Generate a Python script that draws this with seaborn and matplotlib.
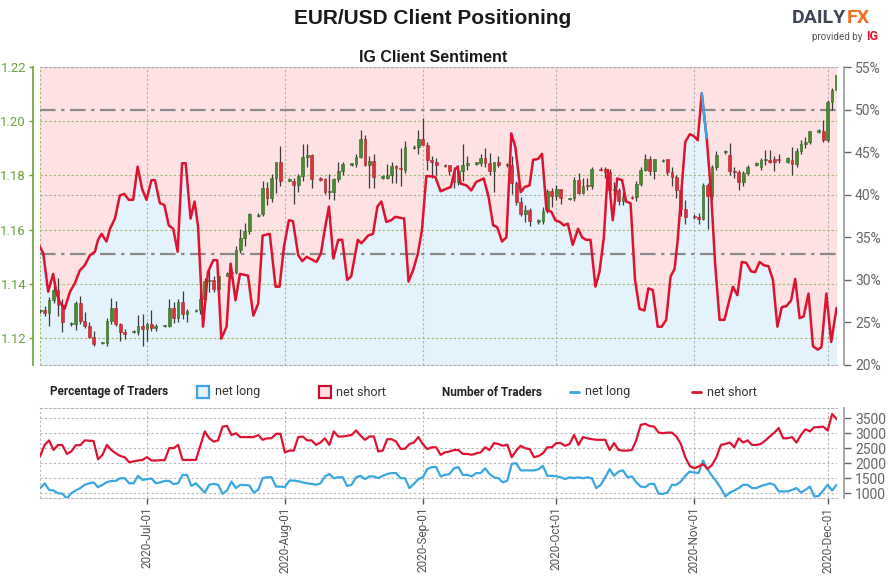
import numpy as np
import pandas as pd
import matplotlib
matplotlib.use("Agg")
import matplotlib.pyplot as plt
import matplotlib.dates as mdates
from matplotlib.patches import Rectangle
from matplotlib.lines import Line2D
import seaborn as sns

START = pd.Timestamp("2020-06-07")

# daily EUR/USD candles, Sunday..Friday sessions
candle_dates = [d for d in pd.date_range("2020-06-07", "2020-12-03") if d.dayofweek != 5]

opens = [
    1.1298, 1.1302, 1.1292, 1.1340, 1.1378, 1.1320,
    1.1250, 1.1252, 1.1328, 1.1262, 1.1245, 1.1205,
    1.1180, 1.1180, 1.1262, 1.1310, 1.1250, 1.1220,
    1.1222, 1.1222, 1.1245, 1.1234, 1.1250, 1.1238,
    1.1243, 1.1245, 1.1310, 1.1273, 1.1333, 1.1287,
    1.1300, 1.1303, 1.1342, 1.1410, 1.1412, 1.1382,
    1.1430, 1.1438, 1.1444, 1.1526, 1.1567, 1.1596,
    1.1650, 1.1656, 1.1752, 1.1716, 1.1792, 1.1848,
    1.1780, 1.1778, 1.1764, 1.1798, 1.1866, 1.1875,
    1.1792, 1.1786, 1.1737, 1.1739, 1.1785, 1.1815,
    1.1840, 1.1842, 1.1869, 1.1933, 1.1838, 1.1853,
    1.1790, 1.1790, 1.1802, 1.1834, 1.1828, 1.1820,
    1.1900, 1.1903, 1.1935, 1.1913, 1.1855, 1.1851,
    1.1837, 1.1837, 1.1817, 1.1777, 1.1815, 1.1840,
    1.1843, 1.1845, 1.1864, 1.1845, 1.1815, 1.1848,
    1.1838, 1.1838, 1.1770, 1.1701, 1.1658, 1.1672,
    1.1628, 1.1631, 1.1667, 1.1743, 1.1722, 1.1749,
    1.1712, 1.1716, 1.1782, 1.1735, 1.1761, 1.1759,
    1.1822, 1.1825, 1.1813, 1.1745, 1.1746, 1.1706,
    1.1718, 1.1719, 1.1768, 1.1820, 1.1862, 1.1816,
    1.1853, 1.1859, 1.1811, 1.1795, 1.1747, 1.1674,
    1.1650, 1.1646, 1.1640, 1.1765, 1.1723, 1.1830,
    1.1885, 1.1875, 1.1815, 1.1812, 1.1775, 1.1808,
    1.1840, 1.1832, 1.1855, 1.1858, 1.1860, 1.1860,
    1.1850, 1.1858, 1.1842, 1.1890, 1.1915, 1.1925,
    1.1960, 1.1962, 1.1930, 1.2071, 1.2115,
]
highs = [
    1.1305, 1.1317, 1.1350, 1.1410, 1.1422, 1.1345,
    1.1258, 1.1336, 1.1354, 1.1295, 1.1258, 1.1225,
    1.1186, 1.1275, 1.1348, 1.1335, 1.1255, 1.1232,
    1.1228, 1.1285, 1.1288, 1.1258, 1.1302, 1.1250,
    1.1248, 1.1345, 1.1333, 1.1345, 1.1372, 1.1308,
    1.1306, 1.1375, 1.1420, 1.1452, 1.1430, 1.1445,
    1.1442, 1.1468, 1.1540, 1.1601, 1.1625, 1.1660,
    1.1660, 1.1781, 1.1776, 1.1805, 1.1850, 1.1909,
    1.1790, 1.1790, 1.1805, 1.1916, 1.1916, 1.1880,
    1.1795, 1.1790, 1.1805, 1.1790, 1.1850, 1.1850,
    1.1846, 1.1880, 1.1966, 1.1950, 1.1870, 1.1880,
    1.1800, 1.1842, 1.1850, 1.1840, 1.1900, 1.1926,
    1.1912, 1.1966, 1.2011, 1.1925, 1.1870, 1.1865,
    1.1842, 1.1840, 1.1830, 1.1840, 1.1917, 1.1870,
    1.1850, 1.1880, 1.1900, 1.1882, 1.1850, 1.1870,
    1.1845, 1.1872, 1.1780, 1.1720, 1.1690, 1.1680,
    1.1640, 1.1683, 1.1750, 1.1755, 1.1765, 1.1750,
    1.1718, 1.1795, 1.1808, 1.1790, 1.1790, 1.1830,
    1.1830, 1.1832, 1.1825, 1.1775, 1.1755, 1.1740,
    1.1724, 1.1780, 1.1830, 1.1880, 1.1870, 1.1860,
    1.1860, 1.1862, 1.1830, 1.1800, 1.1760, 1.1710,
    1.1656, 1.1660, 1.1770, 1.1770, 1.1840, 1.1890,
    1.1893, 1.1920, 1.1830, 1.1820, 1.1815, 1.1840,
    1.1848, 1.1865, 1.1895, 1.1893, 1.1870, 1.1880,
    1.1868, 1.1905, 1.1900, 1.1930, 1.1941, 1.1965,
    1.1972, 1.2004, 1.2077, 1.2121, 1.2176,
]
lows = [
    1.1292, 1.1280, 1.1243, 1.1330, 1.1282, 1.1220,
    1.1245, 1.1230, 1.1250, 1.1235, 1.1200, 1.1170,
    1.1176, 1.1170, 1.1250, 1.1245, 1.1190, 1.1195,
    1.1218, 1.1210, 1.1170, 1.1190, 1.1225, 1.1226,
    1.1240, 1.1240, 1.1255, 1.1260, 1.1270, 1.1258,
    1.1296, 1.1290, 1.1335, 1.1370, 1.1370, 1.1370,
    1.1428, 1.1422, 1.1435, 1.1512, 1.1540, 1.1585,
    1.1648, 1.1650, 1.1690, 1.1700, 1.1735, 1.1760,
    1.1778, 1.1696, 1.1740, 1.1780, 1.1830, 1.1754,
    1.1780, 1.1730, 1.1711, 1.1710, 1.1775, 1.1800,
    1.1836, 1.1830, 1.1865, 1.1835, 1.1753, 1.1753,
    1.1785, 1.1785, 1.1770, 1.1770, 1.1762, 1.1810,
    1.1896, 1.1880, 1.1915, 1.1820, 1.1789, 1.1800,
    1.1830, 1.1800, 1.1752, 1.1765, 1.1780, 1.1820,
    1.1838, 1.1835, 1.1830, 1.1800, 1.1737, 1.1830,
    1.1830, 1.1732, 1.1690, 1.1650, 1.1627, 1.1612,
    1.1620, 1.1620, 1.1660, 1.1685, 1.1710, 1.1695,
    1.1708, 1.1705, 1.1730, 1.1730, 1.1745, 1.1750,
    1.1815, 1.1790, 1.1735, 1.1725, 1.1690, 1.1690,
    1.1712, 1.1705, 1.1760, 1.1815, 1.1800, 1.1785,
    1.1850, 1.1800, 1.1760, 1.1718, 1.1650, 1.1622,
    1.1640, 1.1622, 1.1635, 1.1602, 1.1710, 1.1820,
    1.1880, 1.1800, 1.1790, 1.1745, 1.1760, 1.1800,
    1.1835, 1.1820, 1.1840, 1.1845, 1.1815, 1.1845,
    1.1845, 1.1800, 1.1830, 1.1880, 1.1900, 1.1915,
    1.1958, 1.1924, 1.1925, 1.2040, 1.2105,
]
closes = [
    1.1302, 1.1292, 1.1340, 1.1378, 1.1320, 1.1258,
    1.1255, 1.1328, 1.1262, 1.1245, 1.1205, 1.1178,
    1.1183, 1.1262, 1.1310, 1.1250, 1.1220, 1.1215,
    1.1225, 1.1245, 1.1234, 1.1250, 1.1238, 1.1245,
    1.1246, 1.1310, 1.1273, 1.1333, 1.1287, 1.1300,
    1.1303, 1.1342, 1.1410, 1.1412, 1.1382, 1.1428,
    1.1438, 1.1444, 1.1526, 1.1567, 1.1596, 1.1656,
    1.1655, 1.1752, 1.1716, 1.1792, 1.1848, 1.1778,
    1.1786, 1.1764, 1.1798, 1.1866, 1.1875, 1.1786,
    1.1784, 1.1737, 1.1739, 1.1785, 1.1815, 1.1842,
    1.1843, 1.1869, 1.1933, 1.1838, 1.1853, 1.1795,
    1.1796, 1.1802, 1.1834, 1.1828, 1.1822, 1.1903,
    1.1905, 1.1935, 1.1913, 1.1855, 1.1851, 1.1837,
    1.1835, 1.1817, 1.1777, 1.1815, 1.1840, 1.1845,
    1.1848, 1.1864, 1.1845, 1.1815, 1.1848, 1.1838,
    1.1840, 1.1770, 1.1701, 1.1658, 1.1672, 1.1631,
    1.1636, 1.1667, 1.1743, 1.1722, 1.1749, 1.1716,
    1.1714, 1.1782, 1.1735, 1.1761, 1.1759, 1.1825,
    1.1818, 1.1813, 1.1745, 1.1746, 1.1706, 1.1719,
    1.1716, 1.1768, 1.1820, 1.1862, 1.1816, 1.1859,
    1.1855, 1.1811, 1.1795, 1.1747, 1.1674, 1.1646,
    1.1645, 1.1640, 1.1765, 1.1723, 1.1830, 1.1875,
    1.1890, 1.1815, 1.1812, 1.1775, 1.1808, 1.1832,
    1.1844, 1.1855, 1.1858, 1.1850, 1.1850, 1.1855,
    1.1865, 1.1842, 1.1890, 1.1915, 1.1925, 1.1962,
    1.1968, 1.1930, 1.2071, 1.2115, 1.2172,
]

# IG client sentiment: % of traders net long (time in days after 2020-06-07)
sent_days = [
    -0.45, 0.7, 1.8, 2.9, 3.7, 4.4, 5.5, 6.7, 7.8, 8.9, 10.0, 11.2, 12.3, 13.0, 13.8,
    14.9, 15.7, 16.8, 17.9, 18.9, 19.9, 20.9, 21.9, 22.9, 23.9, 25.0, 25.8, 26.9, 27.9,
    28.9, 29.9, 30.9, 31.9, 32.7, 33.8, 34.7, 35.5, 36.6, 37.7, 38.9, 39.8, 40.7, 41.9,
    42.8, 43.9, 44.9, 46.7, 47.9, 49.0, 50.0, 51.6, 52.9, 53.8, 54.8, 55.9, 56.8, 58.0,
    58.9, 59.9, 61.0, 62.1, 63.1, 64.0, 64.9, 65.9, 67.0, 67.9, 69.0, 69.9, 71.4, 72.2,
    72.9, 73.7, 74.8, 75.8, 76.7, 77.8, 78.9, 79.8, 81.8, 82.8, 83.8, 84.9, 85.8, 86.8,
    88.8, 90.0, 91.3, 92.3, 93.2, 93.8, 94.5, 95.8, 96.9, 98.0, 99.7, 100.8, 101.8, 102.7,
    103.8, 104.8, 105.9, 106.8, 108.0, 108.9, 110.0, 110.8, 111.9, 112.8, 113.8, 114.9,
    115.8, 116.8, 117.7, 118.6, 119.7, 120.9, 121.8, 122.7, 123.7, 124.8, 125.7, 126.7,
    127.6, 128.7, 129.7, 130.8, 131.7, 132.7, 133.7, 134.7, 135.8, 136.7, 137.7, 138.8,
    139.7, 140.7, 141.7, 142.6, 143.3, 144.2, 145.0, 146.0, 146.9, 147.8, 148.7, 149.8,
    150.8, 151.7, 152.7, 153.8, 154.7, 155.7, 156.7, 157.7, 158.7, 159.8, 160.7, 161.7,
    162.7, 163.7, 164.7, 165.7, 166.7, 167.7, 168.8, 169.7, 170.7, 171.6, 172.7, 173.7,
    174.8, 175.6, 176.7, 177.8, 179.0,
]
sent_pct = [
    34.3, 33.1, 28.6, 30.7, 28.4, 27.4, 26.6, 28.6, 29.6, 31.1, 31.7, 32.9, 33.3, 34.7, 35.4,
    34.5, 36.0, 37.2, 39.9, 40.1, 39.4, 39.4, 43.3, 40.7, 39.4, 41.7, 41.7, 39.0, 38.8,
    36.4, 36.0, 33.3, 43.7, 43.7, 37.2, 39.2, 36.2, 24.5, 30.9, 32.3, 32.3, 23.1, 24.5,
    31.9, 27.6, 30.7, 30.5, 25.8, 27.2, 35.2, 35.4, 29.2, 29.2, 33.9, 37.0, 36.9, 32.9,
    32.2, 32.7, 32.4, 32.1, 33.1, 36.0, 38.6, 32.5, 34.7, 34.7, 30.0, 30.4, 34.7, 34.3,
    34.7, 35.2, 35.4, 38.6, 39.2, 36.8, 37.0, 37.4, 37.2, 29.8, 31.1, 33.1, 35.8, 42.2,
    42.1, 40.4, 40.7, 40.9, 42.9, 43.3, 41.3, 41.1, 40.5, 41.5, 41.9, 39.7, 36.4, 36.2,
    34.5, 35.0, 47.2, 45.6, 40.3, 40.9, 41.1, 44.1, 44.2, 44.8, 38.2, 38.0,
    37.0, 36.8, 36.4, 36.6, 34.1, 36.0, 35.0, 34.7, 34.7, 29.2, 30.9, 35.0,
    42.9, 37.0, 41.9, 41.7, 39.2, 39.0, 30.0, 26.6, 26.4, 29.0, 28.8, 24.5,
    24.5, 25.3, 30.4, 31.3, 34.7, 40.9, 46.2, 47.1, 46.9, 46.4, 51.9, 46.7,
    40.2, 31.9, 25.3, 25.3, 27.2, 29.2, 28.2, 32.1, 32.0, 31.0, 30.9, 32.1,
    31.7, 31.6, 30.0, 24.5, 26.8, 26.9, 27.6, 30.1, 25.5, 25.7, 28.4, 22.2,
    21.8, 22.1, 28.4, 22.7, 26.7,
]

# number of traders (days after 2020-06-07)
long_days = [*range(0, 36), *range(37, 46), *range(47, 180)]
long_traders = [
    1170, 1330, 1110, 1090, 1000, 980, 830, 1000, 1090, 1170, 1280, 1330, 1360, 1200,
    1280, 1370, 1410, 1410, 1500, 1500, 1330, 1330, 1580, 1440, 1470, 1490, 1330, 1360,
    1410, 1410, 1300, 1330, 1610, 1610, 1240, 1330,
    1020, 1280, 1310, 1280, 980, 1090, 1390, 1170, 1280,
    1260, 1020, 1110, 1500, 1530, 1530, 1220, 1220, 1200, 1420, 1420, 1400, 1360, 1330,
    1310, 1280, 1330, 1560, 1640, 1500, 1530, 1530, 1240, 1280, 1530, 1580, 1470, 1560,
    1560, 1500, 1580, 1640, 1670, 1670, 1500, 1500, 1170, 1310, 1470, 1530, 1800, 1870, 1870,
    1560, 1610, 1640, 1830, 1870, 1610, 1610, 1560, 1670, 1670,
    1830, 1640, 1530, 1500, 1360, 1420, 1980, 2000, 1760, 1760,
    1760, 1760, 1800, 1910, 1580, 1580, 1560, 1530, 1470, 1530,
    1500, 1530, 1500, 1530, 1500, 1170, 1280, 1530, 1800, 1580,
    1720, 1760, 1530, 1560, 1360, 1220, 1200, 1310, 1310, 980,
    980, 1020, 1280, 1280, 1390, 1580, 1720, 1690, 1670, 2090,
    1800, 1580, 1390, 1170, 890, 1020, 1090, 1170, 1280, 1280,
    1170, 1170, 1240, 1280, 1330, 1280, 1060, 1060, 1060, 1110,
    1170, 1020, 1110, 1220, 890, 910, 1090, 1280, 1090, 1280,
]
short_days = [*range(0, 11), *range(12, 34), 35, *range(37, 46), *range(48, 69), *range(70, 180)]
short_traders = [
    2240, 2610, 2760, 2440, 2610, 2600, 2310, 2390, 2600, 2600, 2760,
    2740, 2130, 2280, 2610, 2440, 2330, 2240, 2200, 2030, 2060, 2090, 2110, 2200, 2090,
    2090, 2100, 2100, 2500, 2500, 2610, 2110, 2110,
    2110,
    3060, 2830, 2720, 2760, 3220, 3240, 2940, 3000, 2870,
    2870, 2940, 2780, 2830, 2830, 2980, 2980, 2360, 2420, 2420, 2870, 2890, 2760, 2760,
    2610, 2690, 2830, 2610, 3060, 2890, 2890,
    2940, 3090, 2920, 2780, 2890, 2890, 2390, 2420, 2800, 2800, 2720, 2480, 2480, 2640,
    2690, 2870, 2640, 2470, 2530, 2530,
    2280, 2360, 2390, 2440, 2440, 2310, 2310, 2280, 2330, 2360,
    2530, 2440, 2670, 2640, 2580, 2620, 2200, 2420, 2580, 2500,
    2470, 2200, 2240, 2330, 2530, 2530, 2670, 2670, 2580, 2640,
    2940, 2610, 2870, 2830, 2800, 2780, 2780, 2780, 2440, 2670,
    2440, 2420, 2420, 2440, 2780, 3280, 3310, 3240, 3220, 3020,
    3000, 3020, 3020, 2890, 2640, 2200, 1910, 1830, 1890, 1970,
    1810, 1940, 2200, 2610, 2640, 2690, 2530, 2830, 2690, 2760,
    2610, 2610, 2640, 2760, 2890, 3020, 3170, 2830, 2830, 2870,
    2690, 2940, 3130, 3060, 3200, 3200, 3220, 3090, 3640, 3470,
]

price_ticks = [1.12, 1.14, 1.16, 1.18, 1.20, 1.22]
pct_ticks = [20, 25, 30, 35, 40, 45, 50, 55]
trader_ticks = [1000, 1500, 2000, 2500, 3000, 3500]

PRICE_LIM = (1.11, 1.22)
PCT_LIM = (20, 55)

GREEN = "#4a8a32"
RED = "#d8323c"
LINE_RED = "#dc1431"
LINE_BLUE = "#3aa6e2"
FILL_BLUE = "#e4f2fb"
FILL_PINK = "#fde1e3"
AXIS_GREEN = "#6aa23c"
GREY = "#666666"


def pct_to_price(p):
    p = np.asarray(p, dtype=float)
    return PRICE_LIM[0] + (p - PCT_LIM[0]) * (PRICE_LIM[1] - PRICE_LIM[0]) / (PCT_LIM[1] - PCT_LIM[0])


sns.set_theme(style="white")
plt.rcParams["font.family"] = ["Roboto", "DejaVu Sans"]

W, H = 891, 576
fig = plt.figure(figsize=(W / 100, H / 100), dpi=100)
ax = fig.add_axes([40 / W, 1 - 365 / H, 797 / W, 298 / H])
axb = fig.add_axes([40 / W, 1 - 498.3 / H, 797 / W, 90 / H], sharex=ax)

x0 = START - pd.Timedelta(hours=1)
x1 = START + pd.Timedelta(days=179.1)

# --- main panel -------------------------------------------------------
ax.set_facecolor(FILL_PINK)
st = START + pd.to_timedelta(sent_days, unit="D")
sp = pct_to_price(sent_pct)
ax.fill_between(st, sp, PRICE_LIM[0], color=FILL_BLUE, lw=0, zorder=0)
ax.fill_between(st, sp, PRICE_LIM[1], color=FILL_PINK, lw=0, zorder=0)

ax.axhline(pct_to_price(50), color="#8a8a8a", lw=1.6, ls=(0, (7, 2.5, 1.5, 2.5)), zorder=2)
ax.axhline(pct_to_price(33), color="#8a8a8a", lw=1.6, ls=(0, (7, 2.5, 1.5, 2.5)), zorder=2)
ax.axhline(pct_to_price(40), color="#aaaaaa", lw=0.8, ls=(0, (2, 2)), zorder=1)

candles = pd.DataFrame({"date": candle_dates, "open": opens, "high": highs,
                        "low": lows, "close": closes})
up = candles["close"] >= candles["open"]
ax.vlines(candles["date"], candles["low"], candles["high"], color="#3c3c3c", lw=0.9, zorder=3)
ax.bar(candles["date"], (candles["close"] - candles["open"]).abs().clip(lower=0.0004),
       bottom=candles[["open", "close"]].min(axis=1), width=0.62,
       color=np.where(up, GREEN, RED), edgecolor=np.where(up, "#2f6320", "#a8222b"),
       lw=0.4, zorder=4)

ax.plot(st, sp, color=LINE_RED, lw=1.8, zorder=5, solid_joinstyle="round")
for i in range(len(sent_pct) - 1):
    if sent_pct[i] > 50:
        ax.plot(st[i:i + 2], sp[i:i + 2], color=LINE_BLUE, lw=1.8, zorder=6)

ax.set_ylim(*PRICE_LIM)
ax.set_xlim(x0, x1)
ax.set_yticks(price_ticks)
ax.yaxis.set_major_formatter(plt.FormatStrFormatter("%.2f"))
ax.yaxis.grid(True, color="#9dbb6a", ls=(0, (2, 2)), lw=0.8)
ax.xaxis.set_major_locator(mdates.MonthLocator(bymonthday=1))
ax.xaxis.grid(True, color="#b0b0b0", ls=(0, (2, 2)), lw=0.8)
ax.tick_params(axis="x", labelbottom=False, length=0)
ax.tick_params(axis="y", colors=AXIS_GREEN, labelsize=9.5, length=3, width=1, left=True, pad=2)
for s in ["top", "bottom", "right"]:
    ax.spines[s].set_color("#b0b0b0")
    ax.spines[s].set_linestyle((0, (2, 2)))
    ax.spines[s].set_linewidth(0.8)
ax.spines["right"].set_visible(False)
ax.spines["left"].set_position(("outward", 5))
ax.spines["left"].set_color(AXIS_GREEN)
ax.spines["left"].set_linewidth(1.2)
ax.axvline(x0, color="#9dbb6a", ls=(0, (2, 2)), lw=0.8, zorder=1)
ax.axvline(x1, color="#b0b0b0", ls=(0, (2, 2)), lw=0.8, zorder=1)
ax.set_ylabel("")
ax.set_xlabel("")

axr = ax.twinx()
axr.set_ylim(*PCT_LIM)
axr.set_yticks(pct_ticks)
axr.set_yticklabels([f"{t}%" for t in pct_ticks])
axr.tick_params(axis="y", colors=GREY, labelsize=10, length=5, width=1, right=True, pad=3)
for s in ["top", "bottom", "left"]:
    axr.spines[s].set_visible(False)
axr.spines["right"].set_position(("outward", 5))
axr.spines["right"].set_color("#999999")
axr.spines["right"].set_linewidth(1.2)
axr.grid(False)

# --- traders panel ------------------------------------------------------
traders = pd.concat([
    pd.DataFrame({"date": START + pd.to_timedelta(long_days, unit="D"),
                  "traders": long_traders, "side": "net long"}),
    pd.DataFrame({"date": START + pd.to_timedelta(short_days, unit="D"),
                  "traders": short_traders, "side": "net short"}),
])
sns.lineplot(data=traders, x="date", y="traders", hue="side",
             palette={"net long": LINE_BLUE, "net short": LINE_RED},
             lw=1.6, ax=axb, legend=False, zorder=3)
axb.set_ylim(830, 3830)
axb.set_yticks(trader_ticks)
axb.yaxis.tick_right()
axb.yaxis.grid(True, color="#b8b8b8", ls=(0, (2, 2)), lw=0.8)
axb.xaxis.grid(True, color="#b8b8b8", ls=(0, (2, 2)), lw=0.8)
axb.tick_params(axis="y", colors=GREY, labelsize=10, length=5, width=1, right=True, pad=3)
axb.xaxis.set_major_locator(mdates.MonthLocator(bymonthday=1))
axb.xaxis.set_major_formatter(mdates.DateFormatter("%Y-%b-%d"))
axb.tick_params(axis="x", colors="#555555", labelsize=8.5, length=4, width=1, bottom=True,
                labelrotation=90, pad=2)
for s in ["top", "bottom"]:
    axb.spines[s].set_color("#b8b8b8")
    axb.spines[s].set_linestyle((0, (2, 2)))
    axb.spines[s].set_linewidth(0.8)
axb.spines["left"].set_visible(False)
axb.spines["right"].set_position(("outward", 5))
axb.spines["right"].set_color("#999999")
axb.spines["right"].set_linewidth(1.2)
axb.axvline(x0, color="#b8b8b8", ls=(0, (2, 2)), lw=0.8)
axb.axvline(x1, color="#b8b8b8", ls=(0, (2, 2)), lw=0.8)
axb.set_xlim(x0, x1)
axb.set_xlabel("")
axb.set_ylabel("")

# --- titles, legend row, logo -----------------------------------------
fig.text(433 / W, 1 - 18 / H, "EUR/USD Client Positioning", ha="center", va="center",
         fontsize=15, fontweight="bold", color="#1a1a1a", family=["Liberation Sans", "DejaVu Sans"])
fig.text(433 / W, 1 - 57 / H, "IG Client Sentiment", ha="center", va="center",
         fontsize=11.5, fontweight="bold", color="#1a1a1a", family=["Liberation Sans", "DejaVu Sans"])

ly = 1 - 392 / H
fig.text(50 / W, ly, "Percentage of Traders", ha="left", va="center", fontsize=8.5,
         fontweight="bold", color="#222222")
fig.add_artist(Rectangle((197 / W, 1 - 398 / H), 12 / W, 12 / H, transform=fig.transFigure,
                         facecolor=FILL_BLUE, edgecolor=LINE_BLUE, lw=1.6))
fig.text(215 / W, ly, "net long", ha="left", va="center", fontsize=9, color="#333333")
fig.add_artist(Rectangle((319 / W, 1 - 398 / H), 12 / W, 12 / H, transform=fig.transFigure,
                         facecolor=FILL_PINK, edgecolor="#c8102e", lw=1.6))
fig.text(336 / W, ly, "net short", ha="left", va="center", fontsize=9, color="#333333")
fig.text(442 / W, ly, "Number of Traders", ha="left", va="center", fontsize=8.5,
         fontweight="bold", color="#222222")
fig.add_artist(Line2D([570 / W, 579 / W], [ly, ly], transform=fig.transFigure,
                      color=LINE_BLUE, lw=2))
fig.text(585 / W, ly, "net long", ha="left", va="center", fontsize=9, color="#333333")
fig.add_artist(Line2D([692 / W, 701 / W], [ly, ly], transform=fig.transFigure,
                      color=LINE_RED, lw=2))
fig.text(707 / W, ly, "net short", ha="left", va="center", fontsize=9, color="#333333")

fig.text(846 / W, 1 - 18 / H, "DAILY", ha="right", va="center", fontsize=14,
         fontweight="bold", color="#3d4656")
fig.text(847 / W, 1 - 18 / H, "FX", ha="left", va="center", fontsize=14,
         fontweight="bold", color="#f36f21")
fig.text(862 / W, 1 - 37 / H, "provided by", ha="right", va="center", fontsize=7,
         color="#555555")
fig.text(866 / W, 1 - 37 / H, "IG", ha="left", va="center", fontsize=9,
         fontweight="bold", color="#e8112d")

fig.savefig("out.png", dpi=100)
